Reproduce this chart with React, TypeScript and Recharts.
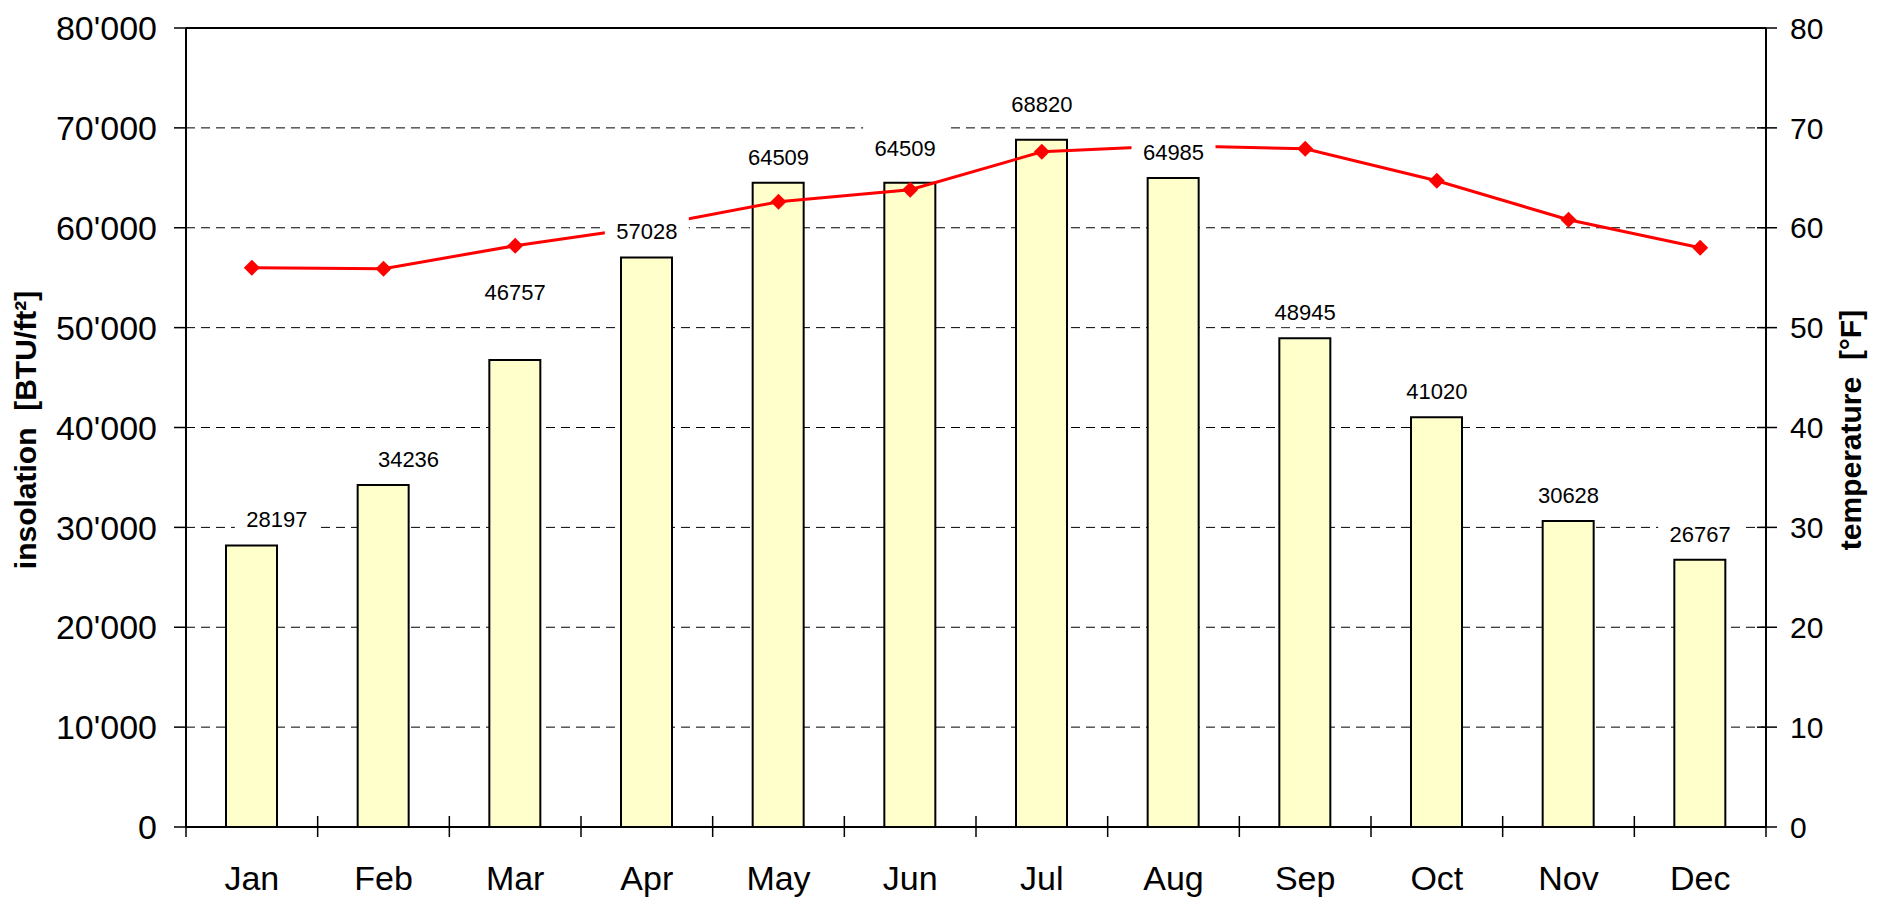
import { ComposedChart, Bar, Line, XAxis, YAxis, CartesianGrid, ReferenceLine, LabelList } from 'recharts'

const MONTHS = ['Jan', 'Feb', 'Mar', 'Apr', 'May', 'Jun', 'Jul', 'Aug', 'Sep', 'Oct', 'Nov', 'Dec']
const INSOLATION = [28197, 34236, 46757, 57028, 64509, 64509, 68820, 64985, 48945, 41020, 30628, 26767]
const TEMPERATURE = [56.0, 55.9, 58.2, 60.1, 62.6, 63.8, 67.6, 68.2, 67.9, 64.7, 60.8, 58.0]
const LEFT_TICKS = [0, 10000, 20000, 30000, 40000, 50000, 60000, 70000, 80000]
const RIGHT_TICKS = [0, 10, 20, 30, 40, 50, 60, 70, 80]

// where the value labels sit, relative to the top of each bar (moved by hand in the original)
const LABEL_DX = [25, 25, 0, 0, 0, -5, 0, 0, 0, 0, 0, 0]
const LABEL_RISE = [18, 18, 60, 18, 18, 27, 28, 18, 18, 18, 18, 18]

const data = MONTHS.map((month, i) => ({
  month,
  insolation: INSOLATION[i],
  temperature: TEMPERATURE[i],
}))

const W = 1861
const H = 891
const LEFT_W = 178
const RIGHT_W = 103
const HALF_BAND = (W - LEFT_W - RIGHT_W) / MONTHS.length / 2

const fmtThousands = (n: number) =>
  n >= 1000 ? `${Math.floor(n / 1000)}'${String(n % 1000).padStart(3, '0')}` : String(n)

function MonthTick(props: any) {
  const { x, y, payload, index } = props
  return (
    <g>
      <line x1={x - HALF_BAND} x2={x - HALF_BAND} y1={y - 11} y2={y + 10} stroke="#000" strokeWidth={1.5} />
      {index === MONTHS.length - 1 && (
        <line x1={x + HALF_BAND} x2={x + HALF_BAND} y1={y - 11} y2={y + 10} stroke="#000" strokeWidth={1.5} />
      )}
      <text x={x} y={y + 63} textAnchor="middle" fontSize={34} fill="#000">
        {payload.value}
      </text>
    </g>
  )
}

function RightTick(props: any) {
  const { x, y, payload } = props
  return (
    <g>
      <line x1={x - 9} x2={x + 11} y1={y} y2={y} stroke="#000" strokeWidth={1.5} />
      <text x={x + 24} y={y} dy="0.358em" textAnchor="start" fontSize={30} fill="#000">
        {payload.value}
      </text>
    </g>
  )
}

function LeftTick(props: any) {
  const { x, y, payload } = props
  return (
    <text x={x} y={y} dy="0.358em" textAnchor="end" fontSize={34} fill="#000">
      {fmtThousands(payload.value)}
    </text>
  )
}

function Diamond(props: any) {
  const { cx, cy, index } = props
  if (cx == null || cy == null) return <g key={index} />
  return (
    <polygon
      key={index}
      points={`${cx},${cy - 8} ${cx + 8},${cy} ${cx},${cy + 8} ${cx - 8},${cy}`}
      fill="#FF0000"
    />
  )
}

function ValueLabel(props: any) {
  const { x, y, value, index } = props
  const cx = x + LABEL_DX[index]
  const base = y - LABEL_RISE[index]
  return (
    <g>
      <rect x={cx - 42} y={base - 31} width={84} height={38} fill="#fff" />
      <text x={cx} y={base} textAnchor="middle" fontSize={22} fill="#000">
        {value}
      </text>
    </g>
  )
}

export default function App() {
  return (
    <div style={{ fontFamily: '"Liberation Sans", Arial, sans-serif' }}>
      <ComposedChart width={W} height={H} data={data} margin={{ top: 20, right: 0, bottom: 0, left: 0 }}>
        <CartesianGrid yAxisId="left" vertical={false} stroke="#000" strokeDasharray="9 6" strokeWidth={1} />
        <XAxis
          dataKey="month"
          interval={0}
          height={H - 20 - 799}
          tickSize={0}
          tickMargin={0}
          tickLine={false}
          tick={<MonthTick />}
          axisLine={{ stroke: '#000', strokeWidth: 2 }}
        />
        <YAxis
          yAxisId="left"
          orientation="left"
          width={LEFT_W}
          domain={[0, 80000]}
          ticks={LEFT_TICKS}
          interval={0}
          tickSize={12}
          tickMargin={17}
          tick={<LeftTick />}
          tickLine={{ stroke: '#000', strokeWidth: 1.5 }}
          axisLine={{ stroke: '#000', strokeWidth: 2 }}
        />
        <YAxis
          yAxisId="right"
          orientation="right"
          width={RIGHT_W}
          domain={[0, 80]}
          ticks={RIGHT_TICKS}
          interval={0}
          tickSize={0}
          tickMargin={0}
          tickLine={false}
          tick={<RightTick />}
          axisLine={{ stroke: '#000', strokeWidth: 2 }}
        />
        <ReferenceLine yAxisId="left" y={80000} stroke="#000" strokeWidth={2} />
        <Bar
          yAxisId="left"
          dataKey="insolation"
          fill="#FFFFCC"
          stroke="#000"
          strokeWidth={2}
          barSize={51}
          isAnimationActive={false}
        />
        <Line
          yAxisId="right"
          dataKey="temperature"
          stroke="#FF0000"
          strokeWidth={3}
          dot={<Diamond />}
          activeDot={false}
          isAnimationActive={false}
        />
        <Line
          yAxisId="left"
          dataKey="insolation"
          stroke="none"
          dot={false}
          activeDot={false}
          legendType="none"
          isAnimationActive={false}
        >
          <LabelList dataKey="insolation" content={<ValueLabel />} />
        </Line>
        <text
          x={28}
          y={422}
          transform="rotate(-90 28 422)"
          textAnchor="middle"
          fontSize={30}
          fontWeight="bold"
          fill="#000"
          style={{ whiteSpace: 'pre' }}
        >
          {'insolation  [BTU/ft²]'}
        </text>
        <text
          x={1853}
          y={422}
          transform="rotate(-90 1853 422)"
          textAnchor="middle"
          fontSize={30}
          fontWeight="bold"
          fill="#000"
          style={{ whiteSpace: 'pre' }}
        >
          {'temperature  [°F]'}
        </text>
      </ComposedChart>
    </div>
  )
}
